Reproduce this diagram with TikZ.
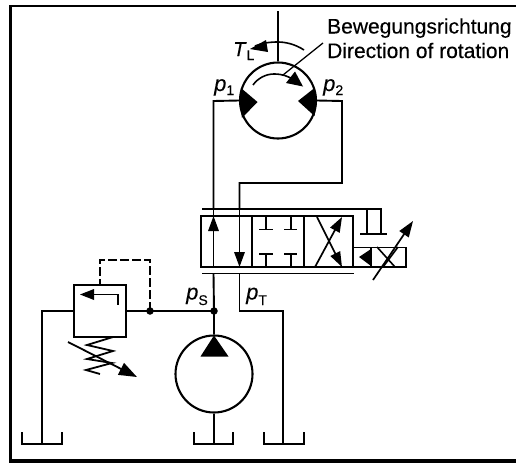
\documentclass[tikz,border=0pt]{standalone}
\usepackage{fontspec}
\setmainfont[FakeBold=0.25]{Liberation Sans}
\usetikzlibrary{arrows.meta,calc}
\tikzset{
  x=1pt,y=-1pt,
  pipe/.style={line width=1.9pt,line join=miter},
  bigarrow/.style={line width=1.7pt,-{Triangle[length=15pt,width=10.5pt]}},
  unit/.style={draw,line width=2.1pt,inner sep=0pt,minimum size=#1,circle},
  lbl/.style={inner sep=0pt,anchor=base west,font=\fontsize{#1}{#1}\selectfont},
  dot/.style={circle,fill=black,inner sep=0pt,minimum size=7.5pt},
}
\newcommand{\sbs}[2]{\raisebox{-#1pt}{\fontsize{14}{14}\selectfont #2}}
\begin{document}
\begin{tikzpicture}
\useasboundingbox (0,0) rectangle (516,463);
% frame (no right edge)
\fill (9.3,5) rectangle (516,6.9);
\fill (9.3,5) rectangle (11.7,463);
\fill (9.3,459) rectangle (516,463);
% motor and pump
\node[unit=76pt] (motor) at (278,100.5) {};
\node[unit=77pt] (pump) at (214,374) {};
% named points
\coordinate (shaft) at (278,11);
\coordinate (p1c) at (213.5,101);
\coordinate (p2c) at (342,101);
\coordinate (r1) at (342,183);
\coordinate (r2) at (239.5,183);
\node[draw,line width=1.9pt,minimum width=152pt,minimum height=51pt,inner sep=0pt] (valve) at (277,241.5) {};
\coordinate (vtl) at (213.5,209);
\coordinate (vtr) at (239.5,209);
\draw[pipe] (shaft) -- (motor.north);
\draw[pipe] (motor.west) -- (p1c) -- (vtl);
\draw[pipe] (motor.east) -- (p2c) -- (r1) -- (r2) -- (vtr);
% motor triangles
\fill (241,88) -- (257.5,102) -- (242,118) -- (239.5,101) -- cycle;
\fill (314.5,88) -- (298,101) -- (314.5,116) -- (317,101) -- cycle;
% rotation
\draw[line width=1.6pt] (304,50) .. controls (295,44) and (285,42) .. (278,42) .. controls (270,42) and (262,43) .. (255,46);
\fill (250,49) -- (266,40) -- (268,52) -- cycle;
\draw[line width=1.6pt] (253,85) .. controls (258,78) and (266,74) .. (274,74) .. controls (282,74) and (288,76) .. (294,80);
\fill (303,86.5) -- (286,83) -- (295,71.5) -- cycle;
\draw[line width=1.3pt] (323,43) -- (283,75);
\node[lbl=21] (t1) at (327,33.5) {Bewegungsrichtung};
\node[lbl=21] (t2) at (327,58) {Direction of rotation};
\node[lbl=20] (tl) at (233,56) {\textit{T}\sbs{4}{L}};
\node[lbl=22] (p1) at (214,91) {\textit{p}\sbs{4}{1}};
\node[lbl=22] (p2) at (323,91) {\textit{p}\sbs{4}{2}};
\node[lbl=22] (ps) at (186,299.5) {\textit{p}\sbs{5.5}{S}};
\node[lbl=22] (pt) at (246,299.5) {\textit{p}\sbs{5.5}{T}};
% valve
\draw[pipe] (252,216) -- (252,267) (304,216) -- (304,267);
\draw[pipe] (202,209) -- (381,209) -- (381,234);
\draw[pipe] (367,209) -- (367,234);
\draw[pipe] (360,234) -- (387,234);
\draw[pipe] (202,273.5) -- (353.5,273.5);
\draw[pipe] (213.5,209) -- (213.5,216);
\draw[pipe] (239.5,209) -- (239.5,216);
\draw[bigarrow] (213.5,267) -- (213.5,216);
\draw[bigarrow] (239.5,216) -- (239.5,267);
% blocks
\draw[pipe] (266,216) -- (266,229) (259,229.5) -- (272.5,229.5);
\draw[pipe] (291,216) -- (291,229) (284,229.5) -- (297,229.5);
\draw[pipe] (266,267) -- (266,254) (259,254) -- (272.5,254);
\draw[pipe] (291,267) -- (291,254) (284,254) -- (297,254);
% cross
\draw[bigarrow] (315,267) -- (342,217);
\draw[bigarrow] (317,217) -- (342,267);
% actuator
\draw[pipe] (353.5,247.5) -- (406,247.5) -- (406,267) -- (353.5,267);
\draw[pipe] (371,247.5) -- (371,267);
\fill (359,257) -- (371,249) -- (371,266) -- cycle;
\draw[line width=1.6pt] (377,247) -- (395,267) (398,247) -- (383,267);
\draw[line width=1.7pt,-{Triangle[length=16pt,width=11pt]}] (373,280) -- (413,221);
% lower piping
\coordinate (js) at (214,311);
\coordinate (tnk1) at (42,444);
\coordinate (tl1) at (42,311);
\coordinate (t3) at (283,444);
\coordinate (t31) at (283,311);
\coordinate (t32) at (239.5,311);
\coordinate (t2c) at (214,444);
\node[draw,line width=2pt,minimum size=52pt,inner sep=0pt] (relief) at (100,311) {};
\node[dot] (d1) at (150,311) {};
\node[dot] (d2) at (js) {};
\draw[pipe] (213.5,273.5) -- (d2.center) -- (pump.north);
\draw[pipe] (239.5,273.5) -- (t32) -- (t31) -- (t3);
\draw[pipe] (d2.center) -- (relief.east);
\draw[pipe] (relief.west) -- (tl1) -- (tnk1);
\draw[pipe] (pump.south) -- (t2c);
\draw[pipe,dash pattern=on 9pt off 3pt] (d1.center) -- (150,260) -- (100,260) -- (relief.north);
% pump triangle
\fill (214,335.5) -- (228.5,356.5) -- (200.5,356.5) -- cycle;
% tanks
\foreach \nm/\a/\b in {tank1/22/62,tank2/194/233,tank3/264/304}
  \draw[pipe] (\a,432) -- (\a,444) -- (\b,444) -- (\b,432);
% relief interior
\draw[pipe] (118,304.5) -- (118,294.5) -- (90,294.5);
\fill (80,294.5) -- (94,289) -- (94,300) -- cycle;
% spring
\draw[line width=1.8pt] (113,337) -- (87,345) -- (113,351) -- (87,359) -- (112,363) -- (86,370) -- (100,374);
\draw[line width=1.8pt,-{Triangle[length=18pt,width=13pt]}] (68,342) -- (137,377);
\end{tikzpicture}
\end{document}
